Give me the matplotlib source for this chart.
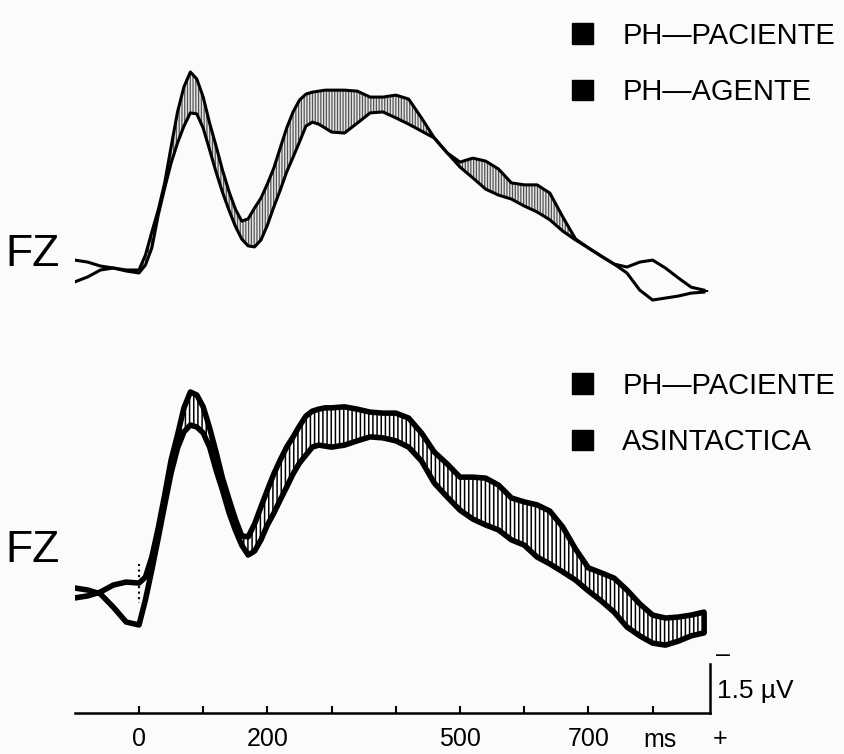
import numpy as np
import matplotlib
matplotlib.use('Agg')
import matplotlib.pyplot as plt
from matplotlib.patches import Patch

# sample times (ms) and amplitudes (microvolts, negative drawn up)
time_ms = ([-100, -80, -60, -40, -20, 0]
           + [10, 20, 30, 40, 50, 60, 70, 80, 90, 100, 110, 120, 130, 140, 150,
              160, 170, 180, 190, 200, 210, 220, 230, 240, 250, 260, 270, 280, 290, 300]
           + [320, 340, 360, 380, 400, 420, 440, 460, 480, 500, 520, 540, 560, 580, 600,
              620, 640, 660, 680, 700, 720, 740, 760, 780, 800, 820, 840, 860, 880])

top_paciente = [-0.30, -0.24, -0.12, -0.06, 0.00, 0.00,
                -0.45, -1.15, -1.82, -2.64, -3.73, -4.79, -5.55, -6.00, -5.79, -5.24,
                -4.45, -3.76, -3.03, -2.39, -1.85, -1.48, -1.55, -1.88, -2.18, -2.61,
                -3.09, -3.70, -4.30, -4.79, -5.15, -5.33, -5.39, -5.42, -5.45, -5.45,
                -5.45, -5.42, -5.24, -5.24, -5.30, -5.18, -4.61, -4.00, -3.55, -3.27,
                -3.39, -3.30, -3.06, -2.64, -2.58, -2.58, -2.33, -1.61, -0.94, -0.67,
                -0.42, -0.18, -0.09, -0.24, -0.30, -0.06, 0.24, 0.52, 0.61]
top_agente = [0.36, 0.21, 0.00, -0.06, 0.03, 0.09,
              -0.15, -0.67, -1.67, -2.48, -3.24, -3.85, -4.36, -4.76, -4.73, -4.30,
              -3.64, -2.97, -2.36, -1.82, -1.33, -0.94, -0.73, -0.70, -0.91, -1.36,
              -1.91, -2.42, -2.97, -3.42, -3.88, -4.36, -4.48, -4.42, -4.30, -4.18,
              -4.15, -4.45, -4.76, -4.79, -4.61, -4.42, -4.21, -4.00, -3.55, -3.12,
              -2.79, -2.45, -2.27, -2.15, -1.94, -1.76, -1.52, -1.18, -0.91, -0.67,
              -0.42, -0.18, 0.09, 0.61, 0.91, 0.85, 0.79, 0.70, 0.67]

bot_paciente = [0.24, 0.18, 0.06, -0.15, -0.24, -0.21,
                -0.39, -1.00, -1.88, -2.88, -3.94, -4.70, -5.52, -6.00, -5.91, -5.55,
                -4.91, -4.18, -3.39, -2.76, -2.15, -1.64, -1.61, -2.00, -2.52, -3.03,
                -3.52, -3.94, -4.33, -4.64, -4.97, -5.27, -5.42, -5.48, -5.52, -5.52,
                -5.55, -5.48, -5.39, -5.36, -5.36, -5.21, -4.76, -4.18, -3.82, -3.42,
                -3.42, -3.39, -3.18, -2.79, -2.67, -2.58, -2.39, -1.91, -1.24, -0.67,
                -0.52, -0.36, 0.00, 0.42, 0.76, 0.85, 0.82, 0.76, 0.67]
bot_asintactica = [-0.06, 0.00, 0.12, 0.52, 0.97, 1.06,
                   0.30, -0.61, -1.58, -2.58, -3.55, -4.30, -4.79, -5.00, -4.94, -4.76,
                   -4.33, -3.64, -3.03, -2.36, -1.82, -1.36, -1.06, -1.18, -1.52, -1.97,
                   -2.33, -2.73, -3.12, -3.52, -3.85, -4.09, -4.33, -4.39, -4.36, -4.33,
                   -4.39, -4.52, -4.64, -4.61, -4.52, -4.33, -3.91, -3.24, -2.82, -2.42,
                   -2.15, -1.97, -1.82, -1.52, -1.36, -1.00, -0.79, -0.55, -0.30, 0.03,
                   0.33, 0.67, 1.12, 1.39, 1.61, 1.67, 1.55, 1.39, 1.30]

top_labels = ['PH\u2014PACIENTE', 'PH\u2014AGENTE']
bot_labels = ['PH\u2014PACIENTE', 'ASINTACTICA']
tick_ms = [0, 100, 200, 300, 400, 500, 600, 700, 800]
tick_text = ['0', '', '200', '', '', '500', '', '700', '']
scale_uv = 1.5

plt.rcParams['font.family'] = ['Liberation Sans', 'DejaVu Sans']

W, H = 845, 754
fig = plt.figure(figsize=(W / 100, H / 100), dpi=100)
fig.patch.set_facecolor('#fbfbfb')


def px_axes(x0, y0, x1, y1):
    return fig.add_axes([x0 / W, 1 - y1 / H, (x1 - x0) / W, (y1 - y0) / H])


ms_per_px = 1 / 0.642
uv_per_px = 1 / 33.0
xlim = ((75 - 139) * ms_per_px, (710 - 139) * ms_per_px)

t = np.array(time_ms)

# upper panel
ax_top = px_axes(75, 50, 710, 310)
ax_top.set_xlim(*xlim)
ax_top.set_ylim((310 - 270) * uv_per_px, (50 - 270) * uv_per_px)
ax_top.set_axis_off()
plt.rcParams['hatch.linewidth'] = 0.9
ax_top.fill_between(t, top_paciente, top_agente, where=(t >= 0) & (t <= 740),
                    interpolate=True, facecolor='#e6e6e6', edgecolor='#555555',
                    hatch='||||||', linewidth=0)
for series in [top_paciente, top_agente]:
    ax_top.plot(t, series, color='black', lw=2.2, solid_joinstyle='round')
ax_top.vlines(t[-1], top_paciente[-1], top_agente[-1], color='black', lw=6)

# lower panel
ax_bot = px_axes(75, 370, 710, 660)
ax_bot.set_xlim(*xlim)
ax_bot.set_ylim((660 - 590) * uv_per_px, (370 - 590) * uv_per_px)
ax_bot.set_axis_off()
plt.rcParams['hatch.linewidth'] = 1.1
ax_bot.fill_between(t, bot_paciente, bot_asintactica, where=t >= 10,
                    interpolate=True, facecolor='white', edgecolor='black',
                    hatch='||||', linewidth=0)
for series in [bot_paciente, bot_asintactica]:
    ax_bot.plot(t, series, color='black', lw=4.0, solid_joinstyle='round',
                solid_capstyle='round')
ax_bot.vlines(t[-1], bot_paciente[-1], bot_asintactica[-1], color='black', lw=3.5)
ax_bot.vlines(0, -0.8, 0.4, color='black', lw=1.5, linestyles=':')

# channel labels
fig.text(5 / W, 1 - 254 / H, 'FZ', fontsize=32, va='center', ha='left')
fig.text(5 / W, 1 - 551 / H, 'FZ', fontsize=32, va='center', ha='left')

# legends
for labels, top_px in [(top_labels, 22), (bot_labels, 372)]:
    handles = [Patch(facecolor='black', edgecolor='black') for _ in labels]
    fig.legend(handles, labels, loc='upper left',
               bbox_to_anchor=(572 / W, 1 - top_px / H), frameon=False,
               fontsize=21, handlelength=0.72, handleheight=0.72,
               handletextpad=1.0, labelspacing=0.97, borderpad=0,
               borderaxespad=0)

# time axis and voltage scale bar
ax_sc = px_axes(75, 640, 710, 713)
ax_sc.set_xlim(*xlim)
ax_sc.set_ylim(0, 73 * uv_per_px)
ax_sc.patch.set_alpha(0)
for side in ['top', 'left']:
    ax_sc.spines[side].set_visible(False)
ax_sc.spines['bottom'].set_linewidth(1.8)
ax_sc.spines['right'].set_linewidth(1.8)
ax_sc.spines['right'].set_bounds(0, scale_uv)
ax_sc.set_yticks([])
ax_sc.set_xticks(tick_ms)
ax_sc.set_xticklabels(tick_text, fontsize=18)
ax_sc.tick_params(axis='x', direction='in', length=5, width=1.5, pad=10)
ax_sc.text(812, -0.82, 'ms', fontsize=18, ha='center', va='center')
ax_sc.annotate('\u2013', (xlim[1], scale_uv), xytext=(4, 6), textcoords='offset points',
               fontsize=18, ha='left', va='center')
ax_sc.annotate('1.5 \u00b5V', (xlim[1], scale_uv * 0.45), xytext=(5, 0),
               textcoords='offset points', fontsize=19, ha='left', va='center')
ax_sc.annotate('+', (xlim[1], 0), xytext=(2, -19), textcoords='offset points',
               fontsize=18, ha='left', va='center')

fig.savefig('out.png', dpi=100, facecolor=fig.get_facecolor())
